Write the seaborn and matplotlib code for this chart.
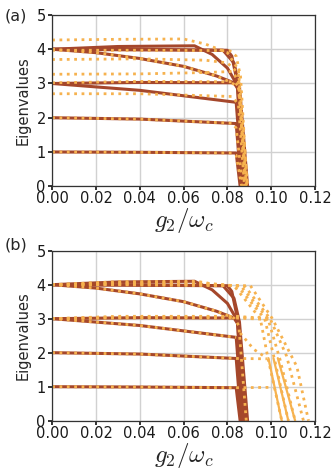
import matplotlib
matplotlib.use("Agg")
import matplotlib.pyplot as plt
import seaborn as sns

# colours
SOLID = "#a5472b"
DOT = "#f6b24f"

# solid curves (same in both panels)
solid_x = [
    [0, 0.04, 0.084, 0.0858],
    [0, 0.04, 0.084, 0.0863],
    [0, 0.04, 0.083, 0.0848, 0.0868],
    [0, 0.04, 0.084, 0.0870],
    [0, 0.03, 0.065, 0.073, 0.080, 0.0845, 0.0874],
    [0, 0.04, 0.080, 0.082, 0.0848, 0.0880],
    [0, 0.02, 0.04, 0.06, 0.075, 0.083, 0.0852, 0.0886],
    [0, 0.04, 0.078, 0.083, 0.0855, 0.0892],
]
solid_y = [
    [1.0, 0.99, 0.97, 0.0],
    [2.0, 1.96, 1.83, 0.0],
    [3.0, 3.03, 3.02, 2.90, 0.0],
    [3.0, 2.80, 2.45, 0.0],
    [4.0, 4.08, 4.10, 3.85, 3.45, 2.95, 0.0],
    [4.0, 3.98, 3.97, 3.80, 2.95, 0.0],
    [4.0, 3.90, 3.73, 3.50, 3.22, 3.02, 2.80, 0.0],
    [4.0, 4.00, 3.97, 3.60, 2.90, 0.0],
]

# dotted curves, panel (a)
dot_a_x = [
    [0, 0.03, 0.060, 0.070, 0.080, 0.085, 0.0892],
    [0, 0.04, 0.081, 0.084, 0.086, 0.0890],
    [0, 0.04, 0.070, 0.080, 0.085, 0.0885],
    [0, 0.04, 0.070, 0.082, 0.085, 0.0882],
    [0, 0.04, 0.083, 0.0855, 0.0880],
    [0, 0.04, 0.082, 0.085, 0.0878],
    [0, 0.04, 0.082, 0.084, 0.0870],
    [0, 0.04, 0.082, 0.084, 0.0865],
    [0, 0.02, 0.04, 0.06, 0.075, 0.081, 0.085, 0.0888],
]
dot_a_y = [
    [4.27, 4.29, 4.30, 4.15, 3.90, 3.40, 0.0],
    [3.97, 3.97, 3.96, 3.80, 3.20, 0.0],
    [3.70, 3.72, 3.68, 3.60, 3.30, 0.0],
    [3.27, 3.28, 3.32, 3.35, 3.10, 0.0],
    [3.02, 3.06, 3.05, 2.90, 0.0],
    [2.70, 2.70, 2.62, 2.40, 0.0],
    [2.0, 1.96, 1.84, 1.70, 0.0],
    [1.0, 0.99, 0.97, 0.90, 0.0],
    [4.0, 3.90, 3.73, 3.50, 3.22, 3.05, 2.90, 0.0],
]

# dotted curves, panel (b)
dot_b_x = [
    [0, 0.03, 0.066, 0.075, 0.083, 0.0905, 0.1005, 0.1117, 0.1170],
    [0, 0.03, 0.066, 0.083, 0.0880, 0.0995, 0.1070, 0.1147],
    [0, 0.03, 0.066, 0.083, 0.0860, 0.0985, 0.1040, 0.1109],
    [0, 0.03, 0.066, 0.083, 0.0845, 0.0970, 0.1015, 0.1078],
    [0, 0.03, 0.066, 0.083, 0.0950, 0.0985, 0.1048],
    [0, 0.03, 0.084, 0.0950, 0.1000],
    [0, 0.03, 0.084, 0.0950, 0.1000],
    [0, 0.03, 0.084, 0.0980],
    [0, 0.04, 0.084],
    [0, 0.04, 0.084, 0.0980],
    [0, 0.04, 0.084, 0.1000],
    [0, 0.02, 0.04, 0.06, 0.075, 0.083, 0.0852, 0.0886],
    [0.0858, 0.0920, 0.0980],
]
dot_b_y = [
    [4.0, 4.09, 4.10, 4.00, 3.97, 3.97, 3.00, 1.59, 0.0],
    [4.0, 4.06, 4.07, 3.97, 3.95, 3.00, 1.90, 0.0],
    [4.0, 4.03, 4.03, 3.97, 3.97, 3.00, 1.80, 0.0],
    [4.0, 4.00, 3.99, 3.97, 3.97, 3.00, 1.80, 0.0],
    [4.0, 4.00, 3.98, 3.97, 3.00, 1.84, 0.0],
    [3.0, 3.07, 3.07, 3.02, 2.98],
    [3.0, 3.04, 3.05, 3.00, 2.98],
    [3.0, 3.02, 3.02, 2.98],
    [3.0, 2.80, 2.45],
    [2.0, 1.96, 1.83, 1.82],
    [1.0, 0.99, 0.97, 0.98],
    [4.0, 3.90, 3.73, 3.50, 3.22, 3.02, 2.80, 0.0],
    [2.58, 2.10, 1.84],
]

# thin solid orange lines, panel (b)
orange_x = [[0.0987, 0.1048], [0.1010, 0.1078], [0.1030, 0.1109]]
orange_y = [[1.84, 0.0], [1.84, 0.0], [1.84, 0.0]]

sns.set_theme(style="whitegrid", rc={
    "axes.edgecolor": "0.2", "grid.color": "0.82", "axes.linewidth": 0.9,
    "xtick.bottom": True, "ytick.left": True,
    "xtick.major.size": 3, "ytick.major.size": 3,
    "xtick.color": "0.1", "ytick.color": "0.1",
})
plt.rcParams["font.family"] = ["DejaVu Sans"]
plt.rcParams["mathtext.fontset"] = "cm"

fig = plt.figure(figsize=(3.32, 4.69), dpi=100)
ax_a = fig.add_axes([0.157, 0.603, 0.792, 0.365])
ax_b = fig.add_axes([0.157, 0.103, 0.792, 0.3625])


def draw(ax, dx, dy, panel):
    for x, y in zip(solid_x, solid_y):
        sns.lineplot(x=x, y=y, ax=ax, sort=False, estimator=None,
                     color=SOLID, lw=2.2)
    if panel == "b":
        for x, y in zip(orange_x, orange_y):
            sns.lineplot(x=x, y=y, ax=ax, sort=False, estimator=None,
                         color=DOT, lw=1.6)
    for x, y in zip(dx, dy):
        sns.lineplot(x=x, y=y, ax=ax, sort=False, estimator=None,
                     color=DOT, lw=2.0, linestyle=":")
    ax.set_xlim(0, 0.12)
    ax.set_ylim(0, 5)
    ax.set_xticks([0, 0.02, 0.04, 0.06, 0.08, 0.10, 0.12])
    ax.set_xticklabels(["0.00", "0.02", "0.04", "0.06", "0.08", "0.10", "0.12"])
    ax.set_yticks([0, 1, 2, 3, 4, 5])
    ax.tick_params(labelsize=10.5, pad=1.5)
    ax.tick_params(axis="x", pad=0.5)
    ax.set_xlabel(r"$g_2/\omega_c$", fontsize=18, labelpad=0)
    ax.set_ylabel("Eigenvalues", fontsize=10.5, labelpad=4)


draw(ax_a, dot_a_x, dot_a_y, "a")
draw(ax_b, dot_b_x, dot_b_y, "b")

fig.text(0.014, 0.982, "(a)", fontsize=11.5, va="top")
fig.text(0.014, 0.493, "(b)", fontsize=11.5, va="top")

fig.savefig("out.png", dpi=100)
